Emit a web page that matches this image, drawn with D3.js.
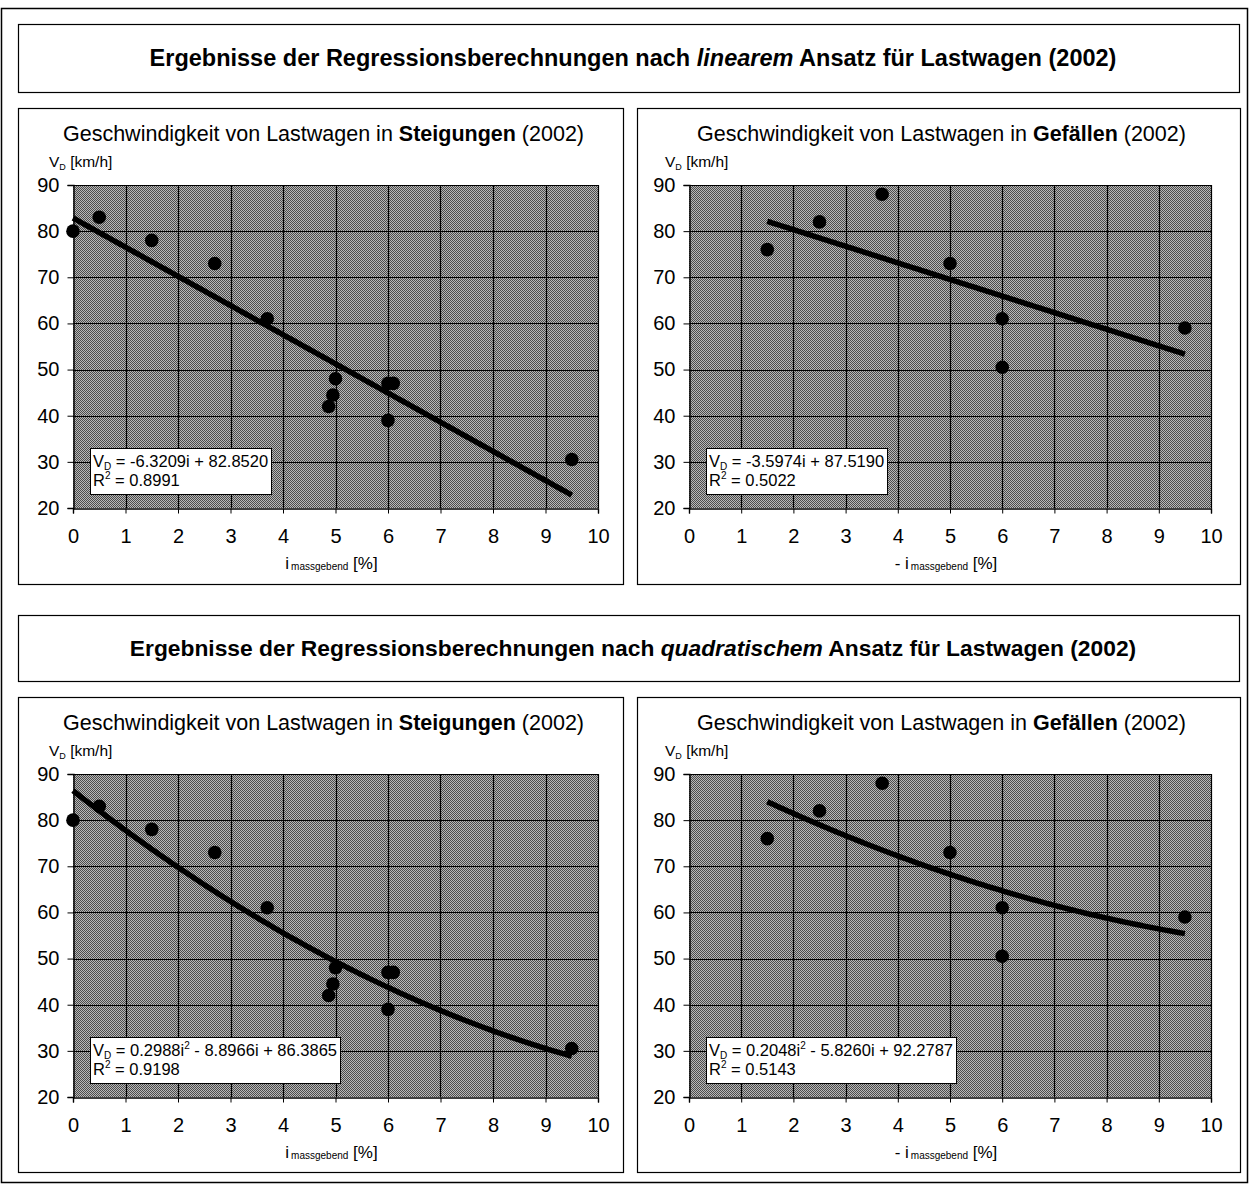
<!DOCTYPE html>
<html><head><meta charset="utf-8">
<script src="https://cdn.jsdelivr.net/npm/d3@7"></script>
<style>body{margin:0;background:#fff} text{font-family:"Liberation Sans",Arial,sans-serif;fill:#000}</style>
</head><body><svg id="c" width="1250" height="1185"></svg>
<script>
// ---- data ----
const xTicks = [0,1,2,3,4,5,6,7,8,9,10];
const yTicks = [20,30,40,50,60,70,80,90];
const steigX = [0,0.5,1.5,2.7,3.7,4.87,4.95,5.0,6.0,6.0,6.1,9.5];
const steigY = [80,83,78,73,61,42,44.5,48,39,47,47,30.5];
const gefX = [1.5,2.5,3.7,5,6,6,9.5];
const gefY = [76,82,88,73,61,50.5,59];
// trend coefficients [a2, a1, a0]
const linSteig = [0,-6.3209,82.8520];
const linGef = [0,-3.5974,87.5190];
const quadSteig = [0.2988,-8.8966,86.3865];
const quadGef = [0.2048,-5.8260,92.2787];
const eqLinSteig = ["= -6.3209i + 82.8520", "0.8991"];
const eqLinGef = ["= -3.5974i + 87.5190", "0.5022"];
const eqQuadSteig = ["= 0.2988i", " - 8.8966i + 86.3865", "0.9198"];
const eqQuadGef = ["= 0.2048i", " - 5.8260i + 92.2787", "0.5143"];
const sectionTitles = [["Ergebnisse der Regressionsberechnungen nach ","linearem"," Ansatz für Lastwagen (2002)"],
                       ["Ergebnisse der Regressionsberechnungen nach ","quadratischem"," Ansatz für Lastwagen (2002)"]];

const svg = d3.select("#c");
const defs = svg.append("defs");
const pat = defs.append("pattern").attr("id","dith").attr("patternUnits","userSpaceOnUse")
  .attr("width",2).attr("height",2);
pat.append("rect").attr("width",2).attr("height",2).attr("fill","#b8b8b8");
pat.append("rect").attr("x",0).attr("y",0).attr("width",1).attr("height",1).attr("fill","#4c4c4c");
pat.append("rect").attr("x",1).attr("y",1).attr("width",1).attr("height",1).attr("fill","#4c4c4c");

// outer frame
svg.append("rect").attr("x",1.5).attr("y",8.5).attr("width",1246).attr("height",1174)
  .attr("fill","none").attr("stroke","#000").attr("stroke-width",1.5);

const sections = [{tTop:24,tBot:92,pTop:108,pBot:584,fs:23.5},{tTop:615,tBot:681,pTop:697,pBot:1172,fs:22.8}];

sections.forEach((s,i)=>{
  svg.append("rect").attr("x",18.5).attr("y",s.tTop+0.5).attr("width",1221).attr("height",s.tBot-s.tTop)
    .attr("fill","#fff").attr("stroke","#000").attr("stroke-width",1.2);
  const t = svg.append("text").attr("x",633).attr("y",(s.tTop+s.tBot)/2+8).attr("text-anchor","middle")
    .attr("font-size",s.fs).attr("font-weight","bold");
  t.append("tspan").text(sectionTitles[i][0]);
  t.append("tspan").attr("font-style","italic").text(sectionTitles[i][1]);
  t.append("tspan").text(sectionTitles[i][2]);
});

function drawPanel(cfg){
  const g = svg.append("g");
  g.append("rect").attr("x",cfg.px0+0.5).attr("y",cfg.py0+0.5).attr("width",cfg.px1-cfg.px0).attr("height",cfg.py1-cfg.py0)
    .attr("fill","#fff").attr("stroke","#000").attr("stroke-width",1.2);
  const tt = g.append("text").attr("x",(cfg.px0+cfg.px1)/2+3).attr("y",cfg.py0+33).attr("text-anchor","middle").attr("font-size",21.5);
  tt.append("tspan").text("Geschwindigkeit von Lastwagen in ");
  tt.append("tspan").attr("font-weight","bold").text(cfg.word);
  tt.append("tspan").text(" (2002)");

  const x = d3.scaleLinear().domain([0,10]).range([cfg.x0,cfg.x1]);
  const y = d3.scaleLinear().domain([20,90]).range([cfg.py0+400,cfg.py0+77]);

  g.append("rect").attr("x",cfg.x0).attr("y",y(90)).attr("width",cfg.x1-cfg.x0).attr("height",y(20)-y(90))
    .attr("fill","url(#dith)");
  // grid
  g.append("g").selectAll("line").data(xTicks.slice(1)).join("line")
    .attr("x1",d=>Math.round(x(d))+0.5).attr("x2",d=>Math.round(x(d))+0.5).attr("y1",y(90)).attr("y2",y(20))
    .attr("stroke","#000").attr("stroke-width",1.2);
  g.append("g").selectAll("line").data(yTicks.slice(1)).join("line")
    .attr("y1",d=>Math.round(y(d))+0.5).attr("y2",d=>Math.round(y(d))+0.5).attr("x1",cfg.x0).attr("x2",cfg.x1)
    .attr("stroke","#000").attr("stroke-width",1.2);
  // axes
  const ax = g.append("g").attr("transform",`translate(0,${Math.round(y(20))+0.5})`)
    .call(d3.axisBottom(x).tickValues(xTicks).tickSize(5).tickPadding(15).tickFormat(d3.format("d")));
  ax.select(".domain").attr("stroke","#000").attr("stroke-width",1.4);
  ax.selectAll("text").attr("font-size",20).attr("font-family","Liberation Sans, Arial, sans-serif");
  const ay = g.append("g").attr("transform",`translate(${Math.round(cfg.x0)+0.5},0)`)
    .call(d3.axisLeft(y).tickValues(yTicks).tickSize(6).tickPadding(8).tickFormat(d3.format("d")));
  ay.select(".domain").attr("stroke","#000").attr("stroke-width",1.4);
  ay.selectAll("text").attr("font-size",20).attr("font-family","Liberation Sans, Arial, sans-serif");

  // y label
  const yl = g.append("text").attr("x",cfg.x0-24).attr("y",cfg.py0+59).attr("font-size",15.5);
  yl.append("tspan").text("V");
  yl.append("tspan").attr("font-size",9).attr("dy",3).text("D");
  yl.append("tspan").attr("dy",-3).text(" [km/h]");
  // x label
  const xl = g.append("text").attr("x",(cfg.x0+cfg.x1)/2-4).attr("y",cfg.py0+461).attr("text-anchor","middle").attr("font-size",17);
  xl.append("tspan").text(cfg.neg ? "- i" : "i");
  xl.append("tspan").attr("font-size",10).attr("dy",1).attr("dx",2).text("massgebend");
  xl.append("tspan").attr("dy",-1).text(" [%]");

  // trend
  const c = cfg.coef;
  const xs = d3.range(d3.min(cfg.dx), d3.max(cfg.dx)+0.0001, 0.05);
  g.append("path").datum(xs).attr("fill","none").attr("stroke","#000").attr("stroke-width",5.5)
    .attr("stroke-linecap","butt")
    .attr("d", d3.line().x(d=>x(d)).y(d=>y(c[0]*d*d + c[1]*d + c[2])));
  // points
  g.append("g").selectAll("circle").data(cfg.dx.map((d,i)=>[d,cfg.dy[i]])).join("circle")
    .attr("cx",d=>x(d[0])).attr("cy",d=>y(d[1])).attr("r",6.8).attr("fill","#000");

  // equation box
  const bx = cfg.x0+17, by = cfg.py0+340;
  const box = g.append("rect").attr("fill","#fff").attr("stroke","#000").attr("stroke-width",1);
  const et = g.append("g").attr("font-size",16.5);
  const l1 = et.append("text").attr("x",bx+3).attr("y",by+19);
  l1.append("tspan").text("V");
  l1.append("tspan").attr("font-size",10).attr("dy",3).text("D");
  if (cfg.eq.length===2){
    l1.append("tspan").attr("dy",-3).text(" "+cfg.eq[0]);
  } else {
    l1.append("tspan").attr("dy",-3).text(" "+cfg.eq[0]);
    l1.append("tspan").attr("font-size",10).attr("dy",-7).text("2");
    l1.append("tspan").attr("dy",7).text(cfg.eq[1]);
  }
  const l2 = et.append("text").attr("x",bx+3).attr("y",by+38);
  l2.append("tspan").text("R");
  l2.append("tspan").attr("font-size",10).attr("dy",-7).text("2");
  l2.append("tspan").attr("dy",7).text(" = "+cfg.eq[cfg.eq.length-1]);
  const w = Math.max(l1.node().getComputedTextLength(), l2.node().getComputedTextLength());
  box.attr("x",bx+0.5).attr("y",by+0.5).attr("width",Math.round(w+6)).attr("height",46);
}

sections.forEach((s,i)=>{
  drawPanel({px0:18,px1:623,py0:s.pTop,py1:s.pBot,x0:73,x1:598,word:"Steigungen",neg:false,
    dx:steigX,dy:steigY,coef:i===0?linSteig:quadSteig,eq:i===0?eqLinSteig:eqQuadSteig});
  drawPanel({px0:637,px1:1240,py0:s.pTop,py1:s.pBot,x0:689,x1:1211,word:"Gefällen",neg:true,
    dx:gefX,dy:gefY,coef:i===0?linGef:quadGef,eq:i===0?eqLinGef:eqQuadGef});
});
</script></body></html>
